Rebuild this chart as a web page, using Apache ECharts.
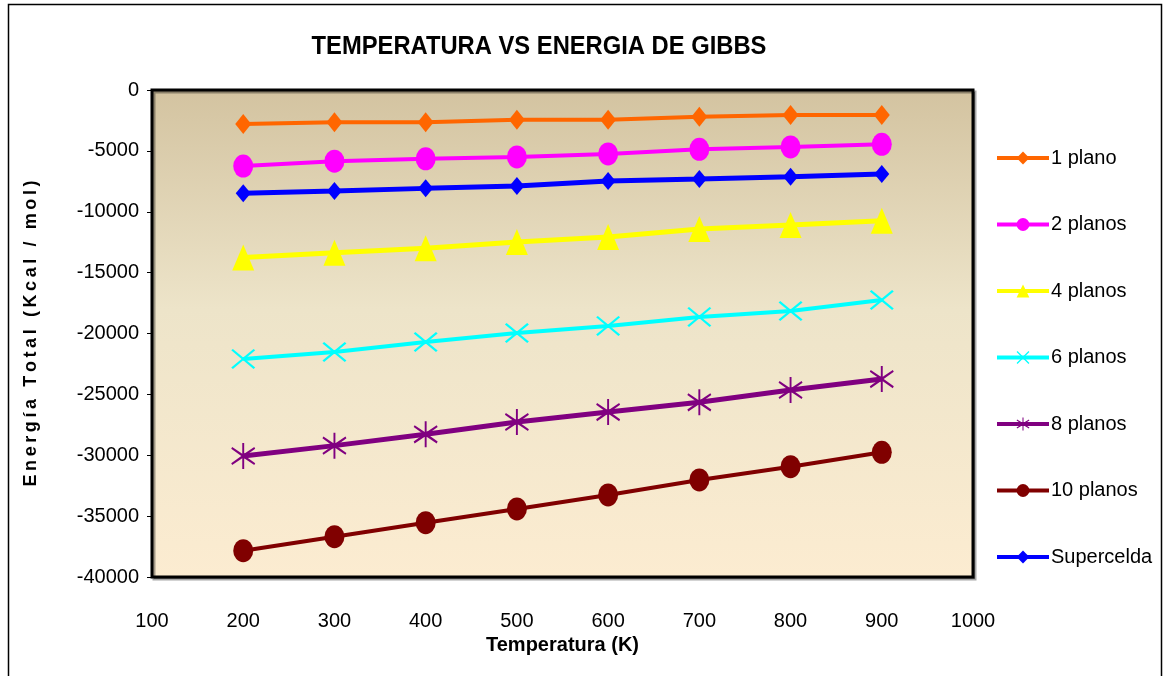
<!DOCTYPE html>
<html>
<head>
<meta charset="utf-8">
<script src="https://cdn.jsdelivr.net/npm/echarts@6/dist/echarts.min.js"></script>
<style>
  html, body { margin: 0; padding: 0; background: #ffffff; }
  #chart { width: 1167px; height: 676px; }
</style>
</head>
<body>
<div id="chart"></div>
<script>
// Temperatura (K)
const temperatures = [200, 300, 400, 500, 600, 700, 800, 900];

// Energía total (Kcal/mol) por número de planos
const plano1     = [-2800, -2650, -2650, -2450, -2450, -2200, -2050, -2050];
const planos2    = [-6250, -5850, -5650, -5500, -5250, -4870, -4680, -4460];
const planos4    = [-13750, -13370, -13000, -12480, -12070, -11420, -11090, -10730];
const planos6    = [-22090, -21520, -20700, -19960, -19380, -18640, -18150, -17250];
const planos8    = [-30060, -29210, -28280, -27270, -26450, -25650, -24640, -23740];
const planos10   = [-37840, -36690, -35540, -34410, -33260, -32030, -30940, -29760];
const supercelda = [-8490, -8300, -8080, -7890, -7470, -7310, -7120, -6900];

const seriesNames = ['1 plano', '2 planos', '4 planos', '6 planos', '8 planos', '10 planos', 'Supercelda'];
const xTicks = [100, 200, 300, 400, 500, 600, 700, 800, 900, 1000];
const yTicks = [0, -5000, -10000, -15000, -20000, -25000, -30000, -35000, -40000];

// marker shapes
const crossPath = 'path://M0,7 L7,0 L50,43 L93,0 L100,7 L57,50 L100,93 L93,100 L50,57 L7,100 L0,93 L43,50 Z';
const starPath = 'path://M0,22 L4,15 L46,41 L46,0 L54,0 L54,41 L96,15 L100,22 L58,50 L100,78 L96,85 L54,59 L54,100 L46,100 L46,59 L4,85 L0,78 L42,50 Z';

const FONT = '"Liberation Sans", Arial, sans-serif';

// widen the letter spacing of a label with thin spaces
function spaced(s) {
  return Array.from(s).join('\u2009');
}

function pairs(vals) {
  return temperatures.map((t, i) => [t, vals[i]]);
}

function mk(name, vals, color, symbol, size, width) {
  return {
    name: name,
    type: 'line',
    data: pairs(vals),
    symbol: symbol,
    symbolSize: size,
    showSymbol: true,
    animation: false,
    lineStyle: { color: color, width: width },
    itemStyle: { color: color, borderWidth: 0 },
    z: 3
  };
}

const chart = echarts.init(document.getElementById('chart'), null, { renderer: 'canvas' });

chart.setOption({
  animation: false,
  backgroundColor: '#ffffff',
  grid: {
    left: 152, right: 194, top: 90, bottom: 99,
    show: true,
    borderColor: '#000000',
    borderWidth: 3,
    shadowColor: 'rgba(0,0,0,0.35)',
    shadowOffsetX: 2,
    shadowOffsetY: 2,
    backgroundColor: {
      type: 'linear', x: 0, y: 0, x2: 0, y2: 1,
      colorStops: [
        { offset: 0, color: '#d3c3a0' },
        { offset: 0.45, color: '#ede4c9' },
        { offset: 1, color: '#fcecd1' }
      ]
    }
  },
  xAxis: {
    type: 'value',
    min: xTicks[0], max: xTicks[xTicks.length - 1], interval: 100,
    splitLine: { show: false },
    axisLine: { show: false },
    axisTick: { show: false },
    axisLabel: { color: '#000', fontFamily: FONT, fontSize: 20, margin: 34, formatter: v => String(v) },
    name: 'Temperatura (K)',
    nameLocation: 'middle',
    nameGap: 55,
    nameTextStyle: { color: '#000', fontFamily: FONT, fontSize: 20, fontWeight: 'bold' }
  },
  yAxis: {
    type: 'value',
    min: yTicks[yTicks.length - 1], max: yTicks[0], interval: 5000,
    splitLine: { show: false },
    axisLine: { show: false },
    axisTick: { show: true, length: 5, inside: false, lineStyle: { color: '#000', width: 1 } },
    axisLabel: { color: '#000', fontFamily: FONT, fontSize: 20, margin: 13, formatter: v => String(v) },
    name: spaced('Energía Total (Kcal / mol)'),
    nameLocation: 'middle',
    nameRotate: 90,
    nameGap: 112,
    nameTextStyle: { color: '#000', fontFamily: FONT, fontSize: 18, fontWeight: 'bold' }
  },
  legend: {
    orient: 'vertical',
    left: 995,
    top: 148,
    padding: 0,
    itemWidth: 52,
    itemHeight: 16,
    itemGap: 46.5,
    lineStyle: { width: 4 },
    textStyle: { color: '#000', fontFamily: FONT, fontSize: 20, padding: [0, 0, 0, -3] },
    data: seriesNames
  },
  graphic: [
    {
      type: 'rect',
      shape: { x: 8.5, y: 4.5, width: 1153, height: 690 },
      style: { fill: 'none', stroke: '#000', lineWidth: 1.5 },
      silent: true,
      z: 0
    },
    {
      type: 'text',
      x: 539, y: 47,
      scaleX: 0.95,
      style: {
        text: 'TEMPERATURA VS ENERGIA DE GIBBS',
        fill: '#000',
        font: 'bold 25px "Liberation Sans", Arial, sans-serif',
        textAlign: 'center',
        textVerticalAlign: 'middle'
      },
      z: 10
    }
  ],
  series: [
    mk(seriesNames[0], plano1, '#ff6600', 'diamond', [16, 20], 4),
    mk(seriesNames[1], planos2, '#ff00ff', 'circle', [20, 23], 4),
    mk(seriesNames[2], planos4, '#ffff00', 'triangle', [22, 26], 5),
    mk(seriesNames[3], planos6, '#00ffff', crossPath, [24, 20], 4),
    mk(seriesNames[4], planos8, '#800080', starPath, [24, 26], 5),
    mk(seriesNames[5], planos10, '#800000', 'circle', [20, 23], 4),
    mk(seriesNames[6], supercelda, '#0000ff', 'diamond', [15, 18], 5)
  ]
});
</script>
</body>
</html>
